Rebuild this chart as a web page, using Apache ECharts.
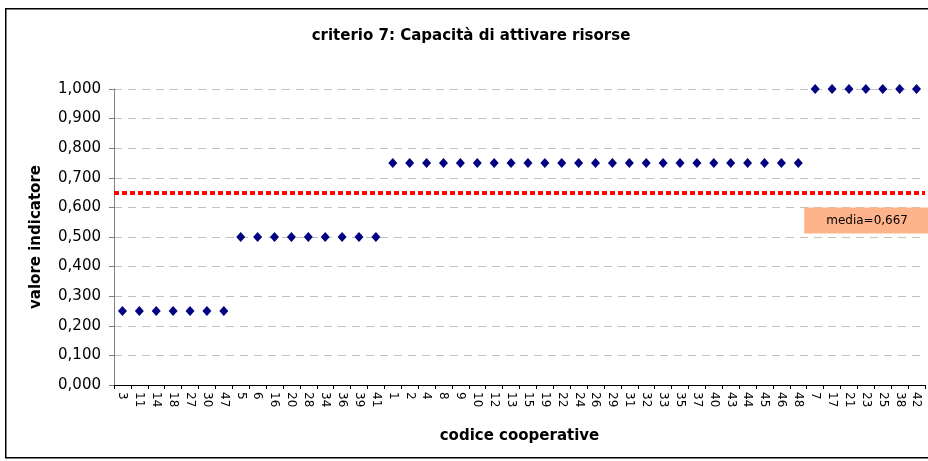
<!DOCTYPE html>
<html>
<head>
<meta charset="utf-8">
<script src="https://cdn.jsdelivr.net/npm/echarts@6/dist/echarts.min.js"></script>
<style>
	html, body { margin: 0; padding: 0; width: 100%; height: 100%; background: #fff; }
	#chart { width: 928px; height: 461px; }
</style>
</head>
<body>
<div id="chart"></div>
<script>
	// codici cooperative (asse x)
	var categorie = ['3', '11', '14', '18', '27', '30', '47', '5', '6', '16', '20', '28', '34', '36', '39', '41',
		'1', '2', '4', '8', '9', '10', '12', '13', '15', '19', '22', '24', '26', '29', '31', '32', '33', '35', '37',
		'40', '43', '44', '45', '46', '48', '7', '17', '21', '23', '25', '38', '42'];
	// valore indicatore per cooperativa
	var valori = [0.25, 0.25, 0.25, 0.25, 0.25, 0.25, 0.25,
		0.5, 0.5, 0.5, 0.5, 0.5, 0.5, 0.5, 0.5, 0.5,
		0.75, 0.75, 0.75, 0.75, 0.75, 0.75, 0.75, 0.75, 0.75, 0.75, 0.75, 0.75, 0.75, 0.75, 0.75, 0.75, 0.75,
		0.75, 0.75, 0.75, 0.75, 0.75, 0.75, 0.75, 0.75,
		1, 1, 1, 1, 1, 1, 1];
	var mediaLinea = 0.652; // posizione della linea come disegnata
	var mediaTesto = 'media=0,667';

	var chart = echarts.init(document.getElementById('chart'));
	var option = {
		animation: false,
		textStyle: { fontFamily: 'DejaVu Sans, Arial, sans-serif' },
		title: {
			text: 'criterio 7: Capacità di attivare risorse',
			left: 466, top: 24, textAlign: 'center',
			textStyle: { fontSize: 15, fontWeight: 'bold', color: '#000' }
		},
		graphic: [{
			type: 'rect', left: 5, top: 8, z: -1,
			shape: { width: 940, height: 449 },
			style: { fill: '#fff', stroke: '#000', lineWidth: 1.5 }
		}],
		grid: { left: 114, right: 3, top: 89, bottom: 76 },
		xAxis: {
			type: 'category',
			data: categorie,
			name: 'codice cooperative',
			nameLocation: 'middle',
			nameGap: 44,
			nameTextStyle: { fontSize: 15, fontWeight: 'bold', color: '#000' },
			axisLine: { lineStyle: { color: '#000', width: 1 } },
			axisTick: { show: true, alignWithLabel: false, length: 4, lineStyle: { color: '#000' } },
			axisLabel: { rotate: -90, interval: 0, fontSize: 12, color: '#000', margin: 7 },
			splitLine: { show: false }
		},
		yAxis: {
			type: 'value',
			min: 0, max: 1, interval: 0.1,
			name: 'valore indicatore',
			nameLocation: 'middle',
			nameGap: 70,
			nameTextStyle: { fontSize: 15, fontWeight: 'bold', color: '#000' },
			axisLine: { show: true, lineStyle: { color: '#808080' } },
			axisTick: { show: true, length: 5, lineStyle: { color: '#808080' } },
			axisLabel: {
				fontSize: 15, color: '#000', margin: 13,
				formatter: function (v) { return v.toFixed(3).replace('.', ','); }
			},
			splitLine: { lineStyle: { color: '#c0c0c0', type: [8, 6] } }
		},
		series: [{
			type: 'scatter',
			data: valori,
			symbol: 'diamond',
			symbolSize: [9, 10],
			itemStyle: { color: '#000080', opacity: 1 },
			markLine: {
				silent: true,
				symbol: 'none',
				data: [{ yAxis: mediaLinea }],
				lineStyle: { color: '#ff0000', width: 4, type: [5, 3], opacity: 1 },
				label: {
					show: true,
					position: 'insideEndBottom',
					formatter: mediaTesto,
					fontSize: 12,
					color: '#000',
					backgroundColor: '#ffb38a',
					padding: [7, 21, 7, 22],
					distance: [-4, 15]
				}
			}
		}]
	};
	chart.setOption(option);
</script>
</body>
</html>
